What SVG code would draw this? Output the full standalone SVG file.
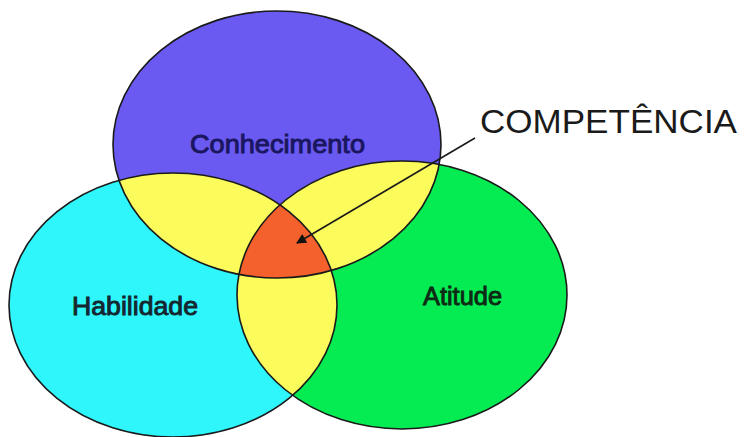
<svg xmlns="http://www.w3.org/2000/svg" width="744" height="437" viewBox="0 0 744 437">
  <style>
    .outline { fill: none; stroke: #1a1a1a; stroke-width: 1.6; }
    .label { font-family: "Liberation Sans", Arial, sans-serif; font-size: 25px; stroke-width: 0.9; }
    .pair { fill: #fbfb5c; }
    .core { fill: #f5612c; }
  </style>
  <defs>
    <ellipse id="shape-conhecimento" cx="277" cy="144.5" rx="164" ry="133.5"/>
    <ellipse id="shape-habilidade" cx="173" cy="305" rx="164" ry="132"/>
    <ellipse id="shape-atitude" cx="402" cy="295" rx="165" ry="134"/>
    <clipPath id="clip-conhecimento"><use href="#shape-conhecimento"/></clipPath>
    <clipPath id="clip-habilidade"><use href="#shape-habilidade"/></clipPath>
    <clipPath id="clip-atitude"><use href="#shape-atitude"/></clipPath>
    <marker id="arrowhead" viewBox="0 0 10 10" refX="9" refY="5" markerWidth="12" markerHeight="10" markerUnits="userSpaceOnUse" orient="auto">
      <path d="M0,0 L10,5 L0,10 z" fill="#111"/>
    </marker>
  </defs>

  <rect width="744" height="437" fill="#ffffff"/>

  <!-- base fills -->
  <g id="habilidade">
    <use href="#shape-habilidade" fill="#2ef6fb"/>
  </g>
  <g id="atitude">
    <use href="#shape-atitude" fill="#05ec52"/>
  </g>
  <g id="conhecimento">
    <use href="#shape-conhecimento" fill="#6a5af2"/>
  </g>

  <!-- pairwise overlaps -->
  <g id="overlaps">
    <g clip-path="url(#clip-conhecimento)"><use href="#shape-habilidade" class="pair"/></g>
    <g clip-path="url(#clip-conhecimento)"><use href="#shape-atitude" class="pair"/></g>
    <g clip-path="url(#clip-habilidade)"><use href="#shape-atitude" class="pair"/></g>
  </g>

  <!-- triple overlap -->
  <g id="competencia-area" clip-path="url(#clip-conhecimento)">
    <g clip-path="url(#clip-habilidade)"><use href="#shape-atitude" class="core"/></g>
  </g>

  <!-- outlines -->
  <g id="outlines">
    <use href="#shape-conhecimento" class="outline"/>
    <use href="#shape-habilidade" class="outline"/>
    <use href="#shape-atitude" class="outline"/>
  </g>

  <!-- labels -->
  <text class="label" x="190" y="153" fill="#1a1660" stroke="#1a1660" textLength="175" lengthAdjust="spacingAndGlyphs">Conhecimento</text>
  <text class="label" x="72" y="315" fill="#14262e" stroke="#14262e" textLength="126" lengthAdjust="spacingAndGlyphs">Habilidade</text>
  <text class="label" x="423" y="305" fill="#0d2a14" stroke="#0d2a14" textLength="79" lengthAdjust="spacingAndGlyphs">Atitude</text>

  <g id="competencia">
    <text x="480" y="133" fill="#1a1a1a" font-family="'Liberation Sans', Arial, sans-serif" font-size="33" textLength="257" lengthAdjust="spacingAndGlyphs">COMPETÊNCIA</text>
  </g>

  <!-- connector -->
  <g id="connectors">
    <line x1="475" y1="138" x2="297" y2="243" stroke="#1a1a1a" stroke-width="1.6" marker-end="url(#arrowhead)"/>
  </g>
</svg>
